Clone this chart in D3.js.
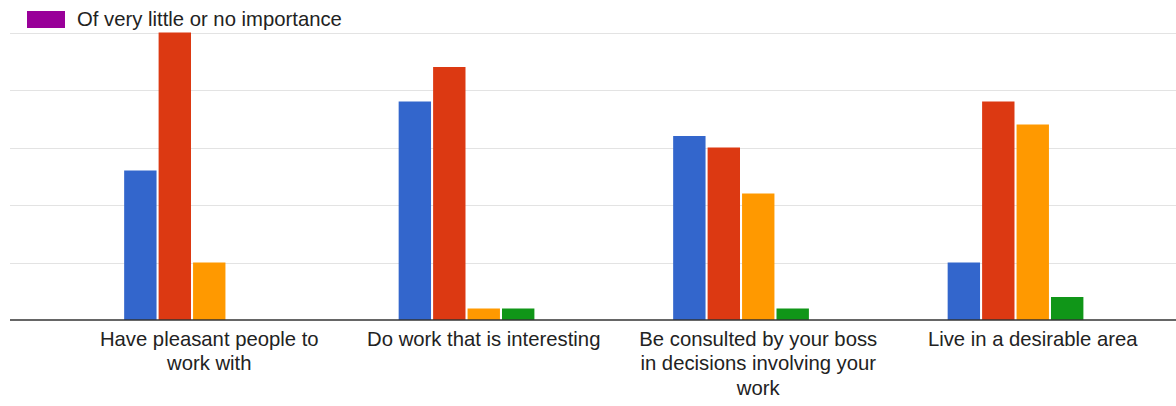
<!DOCTYPE html>
<html>
<head>
<meta charset="utf-8">
<script src="https://cdn.jsdelivr.net/npm/d3@7"></script>
<style>
	body { margin: 0; background: #fff; }
	text { font-family: Arial, "Liberation Sans", sans-serif; }
</style>
</head>
<body>
<svg id="chart"></svg>
<script>
const width = 1176
const height = 406

const categories = [
	'Have pleasant people to work with',
	'Do work that is interesting',
	'Be consulted by your boss in decisions involving your work',
	'Live in a desirable area',
]
const seriesNames = [
	'Very important',
	'Important',
	'Of moderate importance',
	'Of little importance',
	'Of very little or no importance',
]
const colors = ['#3366cc', '#dc3912', '#ff9900', '#109618', '#990099']

// counts per category, one array per series
const veryImportant = [13, 19, 16, 5]
const important = [25, 22, 15, 19]
const moderate = [5, 1, 11, 17]
const little = [0, 1, 1, 2]
const veryLittle = [0, 0, 0, 0]
const series = [veryImportant, important, moderate, little, veryLittle]

const yTicks = [5, 10, 15, 20, 25]

const FONT = '20.3px'

const svg = d3.select('#chart')
	.attr('width', width)
	.attr('height', height)

const x0 = d3.scaleBand()
	.domain(categories)
	.range([72, 1170])
	.paddingInner(0.38)
	.paddingOuter(0.19)

const x1 = d3.scaleBand()
	.domain(d3.range(seriesNames.length))
	.range([0, x0.bandwidth()])
	.paddingInner(0.06)

const y = d3.scaleLinear()
	.domain([0, 25])
	.range([320, 32.5])

// gridlines
svg.append('g')
	.selectAll('line')
	.data(yTicks)
	.join('line')
		.attr('x1', 10)
		.attr('x2', width)
		.attr('y1', d => Math.round(y(d)) + 0.5)
		.attr('y2', d => Math.round(y(d)) + 0.5)
		.attr('stroke', '#e3e3e3')
		.attr('stroke-width', 1)

// bars
const group = svg.append('g')
	.selectAll('g')
	.data(categories)
	.join('g')
		.attr('transform', d => `translate(${x0(d)},0)`)

group.selectAll('rect')
	.data((d, ci) => series.map((s, si) => ({ si, v: s[ci] })))
	.join('rect')
		.attr('x', d => x1(d.si))
		.attr('width', x1.bandwidth())
		.attr('y', d => y(d.v))
		.attr('height', d => y(0) - y(d.v))
		.attr('fill', d => colors[d.si])

// baseline
svg.append('line')
	.attr('x1', 10)
	.attr('x2', width)
	.attr('y1', y(0))
	.attr('y2', y(0))
	.attr('stroke', '#333')
	.attr('stroke-width', 1.5)

// category labels, wrapped
const xAxis = d3.axisBottom(x0).tickSize(0).tickPadding(0)
const axisG = svg.append('g')
	.attr('transform', `translate(0,${y(0)})`)
	.call(xAxis)
axisG.select('.domain').remove()
axisG.selectAll('text')
	.attr('fill', '#222')
	.style('font-size', FONT)
	.attr('y', 0)
	.attr('dy', null)
	.each(function(d) {
		const t = d3.select(this)
		const words = d.split(' ')
		t.text(null)
		let line = []
		let lineNo = 0
		let tspan = t.append('tspan').attr('x', 0).attr('y', 25.5)
		words.forEach(w => {
			line.push(w)
			tspan.text(line.join(' '))
			if (tspan.node().getComputedTextLength() > 247 && line.length > 1) {
				line.pop()
				tspan.text(line.join(' '))
				line = [w]
				lineNo++
				tspan = t.append('tspan').attr('x', 0).attr('y', 25.5 + lineNo * 24.5).text(w)
			}
		})
	})

// legend (only last entry visible)
const legend = svg.append('g')
legend.append('rect')
	.attr('x', 27)
	.attr('y', 11)
	.attr('width', 38)
	.attr('height', 17)
	.attr('fill', colors[4])
legend.append('text')
	.attr('x', 77)
	.attr('y', 26)
	.attr('fill', '#222')
	.style('font-size', FONT)
	.text(seriesNames[4])
</script>
</body>
</html>
